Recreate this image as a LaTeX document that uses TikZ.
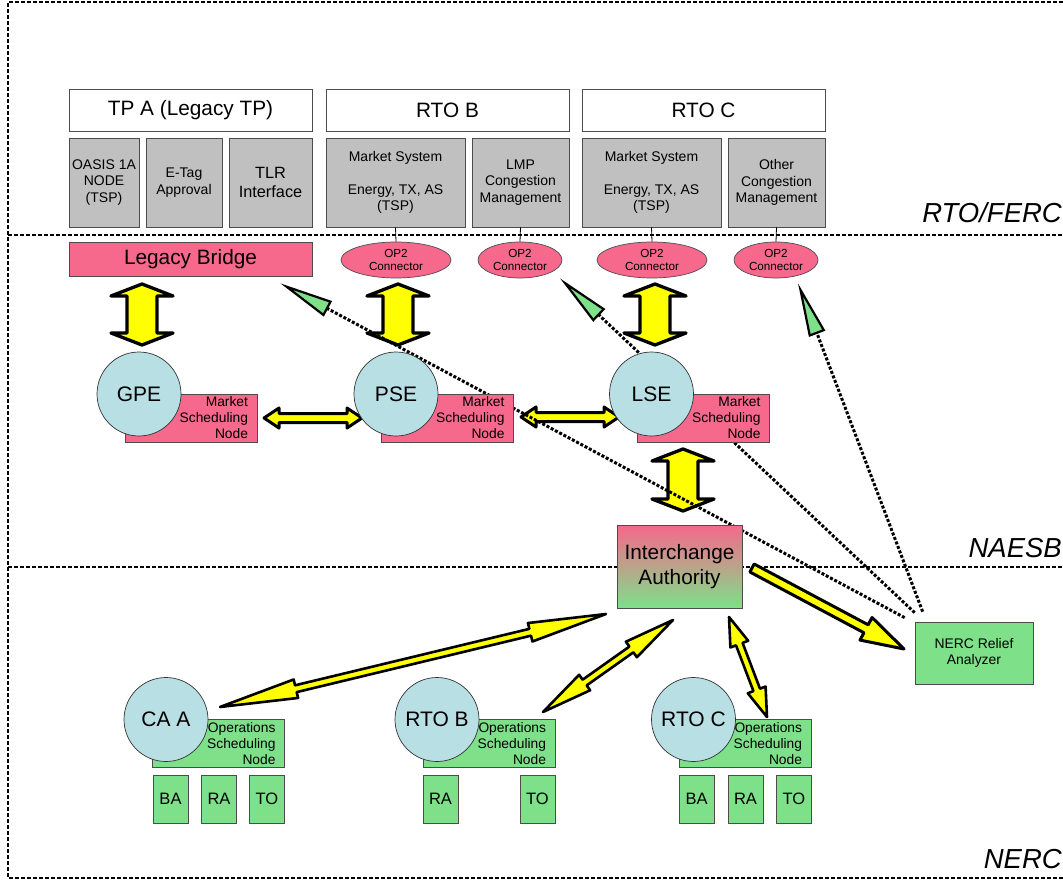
\documentclass[tikz,border=0pt]{standalone}
\usepackage{fontspec}
\setmainfont{Liberation Sans}
\usepackage{tikz}
\usetikzlibrary{shapes.geometric, arrows.meta, backgrounds, calc}

\definecolor{schedpink}{RGB}{246,104,140}
\definecolor{opsgreen}{RGB}{126,224,137}
\definecolor{entityblue}{RGB}{184,223,227}
\definecolor{sysgray}{RGB}{192,192,192}
\definecolor{boltyellow}{RGB}{255,255,0}

\newcommand{\fsz}[2]{\fontsize{#1}{#2}\selectfont}

\begin{document}
\begin{tikzpicture}[
    x=1pt, y=-1pt,
    box/.style={rectangle, draw=black!70, line width=0.7pt, inner sep=0pt, align=center, fill=#1},
    headbox/.style={box=white, minimum width=243pt, minimum height=42pt, font=\fsz{20.8}{24}},
    sysbox/.style={box=sysgray, minimum height=89pt, font=\fsz{14}{16.5}},
    connector/.style={ellipse, draw=black!70, line width=0.7pt, fill=schedpink, inner sep=0pt,
        minimum height=36pt, align=center, font=\fsz{11.7}{13}},
    entity/.style={circle, draw=black!80, line width=0.7pt, fill=entityblue, minimum size=84pt,
        inner sep=0pt, font=\fsz{21}{24}},
    schedbox/.style={box=#1, minimum width=132pt, minimum height=48pt, inner xsep=9pt,
        text width=114pt, align=right, font=\fsz{13.8}{16}},
    unitbox/.style={box=opsgreen, minimum width=35pt, minimum height=48pt, font=\fsz{16.5}{19}},
    zone/.style={anchor=base east, inner sep=0pt, font=\fsz{27.5}{32}\itshape},
    zoneline/.style={line width=1.1pt, dash pattern=on 4pt off 2pt},
    link/.style={line width=0.8pt},
    relief/.style={line width=3pt, dash pattern=on 3pt off 1.8pt,
        -{Triangle[length=54pt, width=17pt, fill=opsgreen, line width=2.2pt]}},
    along/.style={shift={(\p1)}, rotate=\n1},
    % #1 half shaft, #2 half head, #3 head length, #4 outline
    dblarrow/.style n args={4}{draw=black, fill=boltyellow, line width=#4, line join=round,
        to path={let \p1=(\tikztostart), \p2=(\tikztotarget),
            \n1={atan2(\y2-\y1,\x2-\x1)}, \n2={veclen(\x2-\x1,\y2-\y1)} in
            ([along]0,0) -- ([along]#3,#2) -- ([along]#3,#1) -- ([along]{\n2-#3},#1)
            -- ([along]{\n2-#3},#2) -- ([along]\n2,0) -- ([along]{\n2-#3},-#2)
            -- ([along]{\n2-#3},-#1) -- ([along]#3,-#1) -- ([along]#3,-#2) -- cycle}},
    sglarrow/.style n args={4}{draw=black, fill=boltyellow, line width=#4, line join=round,
        to path={let \p1=(\tikztostart), \p2=(\tikztotarget),
            \n1={atan2(\y2-\y1,\x2-\x1)}, \n2={veclen(\x2-\x1,\y2-\y1)} in
            ([along]0,#1) -- ([along]{\n2-#3},#1) -- ([along]{\n2-#3},#2) -- ([along]\n2,0)
            -- ([along]{\n2-#3},-#2) -- ([along]{\n2-#3},-#1) -- ([along]0,-#1) -- cycle}}
]

\useasboundingbox (0,0) rectangle (1063,880);

% === RTO / FERC ===
\node (tpa) [headbox] at (190.5,110) {TP A (Legacy TP)};
\node (rtob) [headbox] at (447.5,110) {RTO B};
\node (rtoc) [headbox] at (703.5,110) {RTO C};

\node (oasis) [sysbox, minimum width=70pt] at (104,182.5) {OASIS 1A\\NODE\\(TSP)};
\node (etag) [sysbox, minimum width=76pt] at (184,182.5) {E-Tag\\Approval};
\node (tlr) [sysbox, minimum width=83pt, font=\fsz{16.3}{19}] at (270.5,182.5) {TLR\\Interface};
\node (mktb) [sysbox, minimum width=139pt] at (395.5,182.5) {Market System\\[16pt]Energy, TX, AS\\(TSP)};
\node (lmp) [sysbox, minimum width=97pt] at (520.5,182.5) {LMP\\Congestion\\Management};
\node (mktc) [sysbox, minimum width=139pt] at (651.5,182.5) {Market System\\[16pt]Energy, TX, AS\\(TSP)};
\node (other) [sysbox, minimum width=97pt] at (776.5,182.5) {Other\\Congestion\\Management};

\node (bridge) [box=schedpink, minimum width=243pt, minimum height=34pt, font=\fsz{20.8}{24}] at (190.5,259) {Legacy Bridge};
\node (op2b) [connector, minimum width=110pt] at (396,260) {OP2\\Connector};
\node (op2l) [connector, minimum width=84pt] at (520,260) {OP2\\Connector};
\node (op2c) [connector, minimum width=110pt] at (652,260) {OP2\\Connector};
\node (op2o) [connector, minimum width=84pt] at (776,260) {OP2\\Connector};

\draw [link] (mktb.south) -- (op2b.north);
\draw [link] (lmp.south) -- (op2l.north);
\draw [link] (mktc.south) -- (op2c.north);
\draw [link] (other.south) -- (op2o.north);

% === NAESB ===
\node (msna) [schedbox=schedpink] at (191,418) {Market\\Scheduling\\Node};
\node (gpe) [entity] at (139,394) {GPE};
\node (msnb) [schedbox=schedpink] at (447.5,418) {Market\\Scheduling\\Node};
\node (pse) [entity] at (396,394) {PSE};
\node (msnc) [schedbox=schedpink] at (703.5,418) {Market\\Scheduling\\Node};
\node (lse) [entity] at (651.5,394) {LSE};

\node (ia) [box=schedpink, top color=schedpink, bottom color=opsgreen, minimum width=125pt,
    minimum height=83pt, font=\fsz{20.8}{25}] at (679.5,566.5) {Interchange\\Authority};
\node (nerc) [box=opsgreen, minimum width=118pt, minimum height=62pt, font=\fsz{13.9}{16}] at (974,653) {NERC Relief\\Analyzer};

% === NERC ===
\node (opsa) [schedbox=opsgreen] at (218.5,743.5) {Operations\\Scheduling\\Node};
\node (caa) [entity] at (166,719.5) {CA A};
\node (baa) [unitbox] at (170.5,799) {BA};
\node (raa) [unitbox] at (219,799) {RA};
\node (toa) [unitbox] at (267,799) {TO};

\node (opsb) [schedbox=opsgreen] at (489,743.5) {Operations\\Scheduling\\Node};
\node (rtobb) [entity] at (437,719.5) {RTO B};
\node (rab) [unitbox] at (440.5,799) {RA};
\node (tob) [unitbox] at (537.5,799) {TO};

\node (opsc) [schedbox=opsgreen] at (745,743.5) {Operations\\Scheduling\\Node};
\node (rtocc) [entity] at (693.5,719.5) {RTO C};
\node (bac) [unitbox] at (696.5,799) {BA};
\node (rac) [unitbox] at (745.5,799) {RA};
\node (toc) [unitbox] at (794,799) {TO};

\node (ferc) [zone] at (1062,222) {RTO/FERC};
\node (naesb) [zone] at (1062,557) {NAESB};
\node (nercl) [zone] at (1062,868) {NERC};

% arrow ends
\coordinate (gpeup) at (142,284);  \coordinate (gpedn) at (142,345);
\coordinate (pseup) at (398,284);  \coordinate (psedn) at (398,345);
\coordinate (lseup) at (655,284);  \coordinate (lsedn) at (655,345);
\coordinate (iaup) at (683,449);   \coordinate (iadn) at (683,511);
\coordinate (gpert) at (264,418);  \coordinate (pselt) at (362,418);
\coordinate (psert) at (521,417);  \coordinate (lselt) at (619,417);
\coordinate (iaout) at (752,568);  \coordinate (nercin) at (904,649);
\coordinate (iaa) at (606,614);    \coordinate (caain) at (220,707);
\coordinate (iab) at (673,620);    \coordinate (rtobin) at (543,712);
\coordinate (iac) at (729,617);    \coordinate (rtocin) at (767,717);

\begin{scope}[on background layer]
\draw [zoneline] (1063,2) -- (8,2) -- (8,878) -- (1063,878);
\draw [zoneline] (8,235) -- (1063,235);
\draw [zoneline] (8,567) -- (1063,567);

\draw [dblarrow={15}{31}{12}{3.3pt}] (gpeup) to (gpedn);
\draw [dblarrow={15}{31}{12}{3.3pt}] (pseup) to (psedn);
\draw [dblarrow={15}{31}{12}{3.3pt}] (lseup) to (lsedn);
\draw [dblarrow={15}{31}{12}{3.3pt}] (iaup) to (iadn);
\draw [dblarrow={4.5}{10}{15}{3pt}] (gpert) to (pselt);
\draw [dblarrow={4.5}{10}{15}{3pt}] (psert) to (lselt);
\draw [sglarrow={4.5}{12.8}{43}{3pt}] (iaout) to (nercin);
\draw [dblarrow={3.5}{9.5}{78}{2.6pt}] (iaa) to (caain);
\draw [dblarrow={3.5}{9.5}{51}{2.6pt}] (iab) to (rtobin);
\draw [dblarrow={3.5}{9.5}{29}{2.6pt}] (iac) to (rtocin);

\draw [relief] ([xshift=-10pt,yshift=4pt]nerc.north west) -- ([xshift=-32pt,yshift=-7pt]bridge.south east);
\draw [relief] ([yshift=9pt]nerc.north west) -- ([xshift=40pt]op2l.south);
\draw [relief] ([xshift=8pt,yshift=10pt]nerc.north west) -- ([xshift=22pt,yshift=-5pt]op2o.south);
\end{scope}

\end{tikzpicture}
\end{document}
